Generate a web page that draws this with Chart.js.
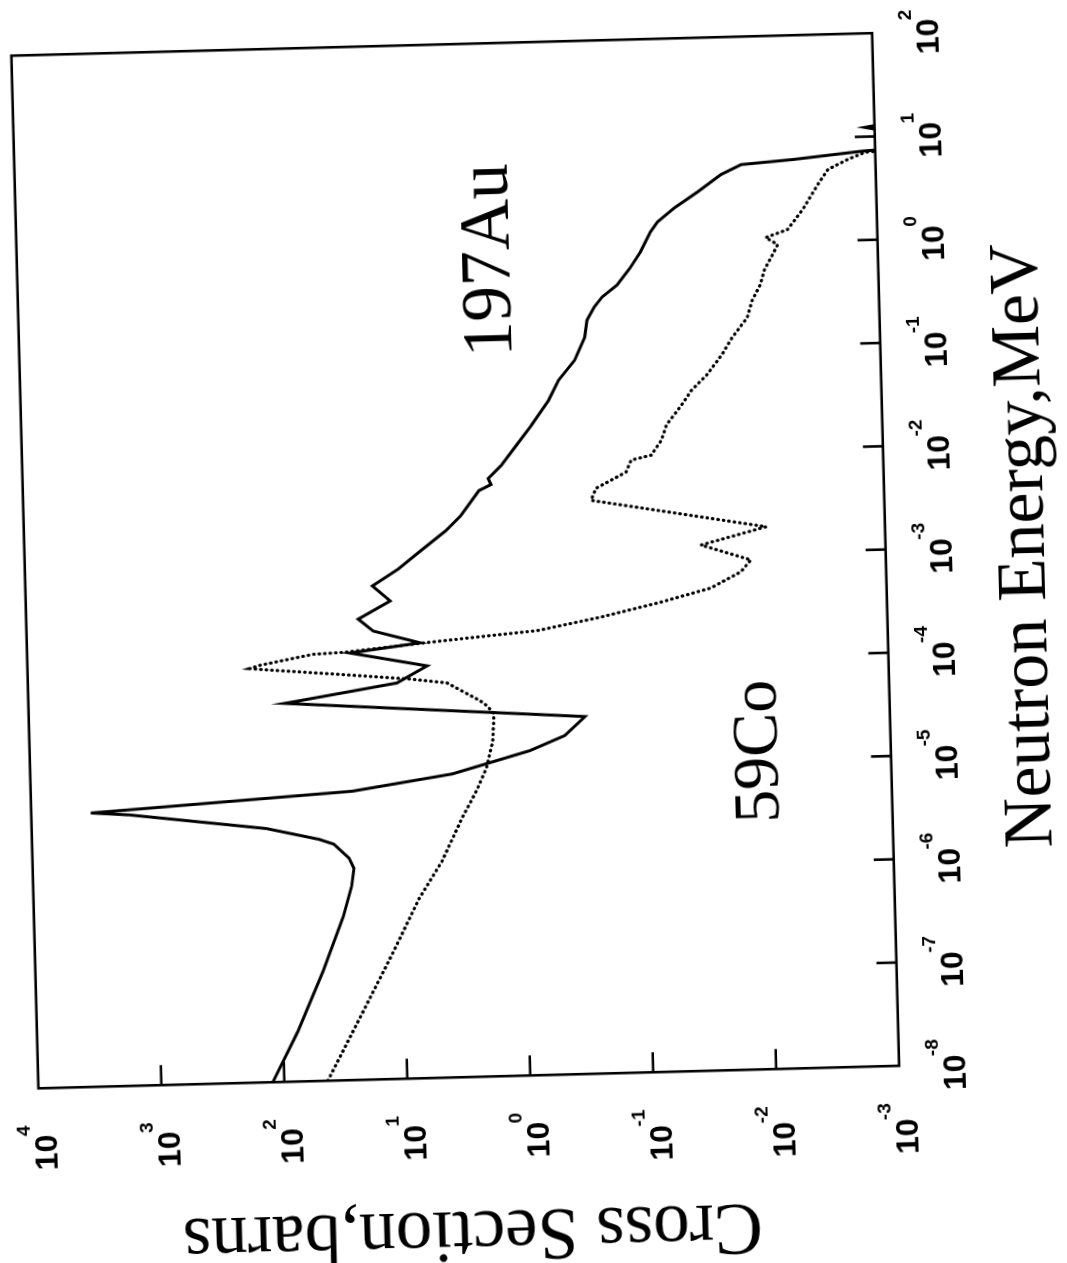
<!DOCTYPE html>
<html>
<head>
<meta charset="utf-8">
<title>Neutron capture cross sections</title>
<script src="https://cdn.jsdelivr.net/npm/chart.js@4.4.1/dist/chart.umd.min.js"></script>
<style>
  html, body { margin: 0; padding: 0; background: #fff; overflow: hidden; }
  body { width: 1067px; height: 1263px; position: relative; }
  /* the plot is laid out landscape and turned on its side, slightly skewed like the printed page */
  #plot {
    position: absolute; left: 0; top: 0;
    width: 1263px; height: 1067px;
    transform-origin: 0 0;
    transform: translate(455.25px, 560.75px) rotate(-91.5deg) translate(-702.25px, -455.25px);
  }
</style>
</head>
<body>
<canvas id="plot" width="1263" height="1067"></canvas>
<script>
// 197Au capture cross section: energy in MeV, sigma in barns
const auEnergy = [1e-8, 3.05e-8, 1.15e-7, 3.87e-7, 7.5e-7, 1.12e-6, 1.41e-6, 1.94e-6, 2.18e-6, 2.86e-6,
  4.2e-6, 4.48e-6, 4.7e-6, 6.25e-6, 8.67e-6, 1.39e-5, 1.91e-5, 2.88e-5, 4.6e-5, 4.79e-5,
  6.79e-5, 9.77e-5, 1.36e-4, 1.64e-4, 2.19e-4, 2.88e-4, 4.24e-4, 5.98e-4, 8.61e-4, 1.27e-3,
  1.96e-3, 2.72e-3, 4.71e-3, 5.35e-3, 6.12e-3, 8.13e-3, 0.0126, 0.0195, 0.0337, 0.0525,
  0.0813, 0.135, 0.197, 0.262, 0.327, 0.424, 0.615, 0.873, 1.36, 1.69,
  2.29, 3.23, 4.67, 5.77, 6.27, 7.24, 7.8, 10, 12.3, 14.5];
const auSigma = [124, 75.7, 45.8, 30.5, 25.8, 24.5, 26.7, 35.2, 46.4, 124,
  1607, 3280, 1604, 24.3, 3.70, 0.861, 0.443, 0.301, 82.6, 65.9,
  10.0, 5.64, 23.7, 6.36, 15.2, 20.0, 10.9, 15.1, 9.19, 6.03,
  3.73, 2.79, 1.96, 1.56, 1.64, 1.28, 0.955, 0.713, 0.511, 0.419,
  0.307, 0.251, 0.239, 0.208, 0.178, 0.134, 0.104, 0.0851, 0.0698, 0.0608,
  0.044, 0.0282, 0.0182, 0.0124, 0.00468, 0.0013, 0.0005, 0.0005, 0.0012, 0.0005];

// 59Co capture cross section
const coEnergy = [1e-8, 3.69e-8, 1.73e-7, 5.43e-7, 1.25e-6, 3.24e-6, 5.86e-6, 9.73e-6, 1.77e-5, 3.24e-5,
  3.88e-5, 4.36e-5, 6.61e-5, 7.36e-5, 8.55e-5, 9.95e-5, 1.02e-4, 1.09e-4, 1.35e-4, 1.39e-4,
  1.63e-4, 1.78e-4, 2.01e-4, 2.61e-4, 3.52e-4, 4.69e-4, 6.61e-4, 8.57e-4, 1.23e-3, 1.78e-3,
  3.55e-3, 4.63e-3, 6.52e-3, 8.49e-3, 9.39e-3, 0.013, 0.0182, 0.0282, 0.0392, 0.0542,
  0.0841, 0.122, 0.19, 0.282, 0.393, 0.547, 0.762, 0.95, 1.12, 1.32,
  2.05, 3.55, 4.93, 6.1, 7.06, 7.6];
const coSigma = [44.3, 24.4, 12.1, 7.38, 4.69, 3.15, 2.38, 1.95, 1.71, 1.65,
  1.88, 2.13, 3.93, 7.83, 30.6, 129, 156, 129, 47.5, 26.0,
  6.0, 2.48, 0.705, 0.215, 0.0692, 0.0269, 0.0152, 0.0125, 0.0316, 0.00925,
  0.242, 0.219, 0.124, 0.112, 0.0766, 0.063, 0.0568, 0.0424, 0.0348, 0.0261,
  0.0195, 0.016, 0.0119, 0.0107, 0.00916, 0.00842, 0.00718, 0.0065, 0.0081, 0.00536,
  0.00399, 0.00297, 0.00244, 0.00167, 0.00121, 0.0005];

// decade ticks on both axes
const energyTicks = [1e-8, 1e-7, 1e-6, 1e-5, 1e-4, 1e-3, 1e-2, 1e-1, 1e0, 1e1, 1e2];
const sigmaTicks = [1e-3, 1e-2, 1e-1, 1e0, 1e1, 1e2, 1e3, 1e4];

// curve names, placed at (energy, sigma)
const curveNames = ["197Au", "59Co"];
const nameEnergy = [0.79, 1.2e-5];
const nameSigma = [1.41, 0.0117];

const toPoints = (xs, ys) => xs.map((x, i) => ({ x: x, y: ys[i] }));

const baseFont = "bold 32px 'Liberation Sans', Arial, sans-serif";
const expFont = "bold 19px 'Liberation Sans', Arial, sans-serif";

function measurePower(ctx, value) {
    const exp = String(Math.round(Math.log10(value)));
    ctx.font = baseFont;
    const wb = ctx.measureText("10").width;
    ctx.font = expFont;
    const we = ctx.measureText(exp).width;
    return { exp: exp, wb: wb, w: wb + we - 1 };
}

// "10" followed by a raised exponent
function drawPower(ctx, lab, x0, baseline) {
    ctx.textAlign = "left";
    ctx.textBaseline = "alphabetic";
    ctx.font = baseFont;
    ctx.fillText("10", x0, baseline);
    ctx.font = expFont;
    ctx.fillText(lab.exp, x0 + lab.wb - 1, baseline - 27);
}

const framePlugin = {
    id: "frame",
    afterDatasetsDraw(chart) {
        const { ctx, chartArea: a } = chart;
        const xs = chart.scales.x, ys = chart.scales.y;
        ctx.save();
        ctx.strokeStyle = "#000";
        ctx.fillStyle = "#000";
        ctx.lineWidth = 2.6;
        ctx.lineCap = "butt";
        ctx.strokeRect(a.left, a.top, a.right - a.left, a.bottom - a.top);

        // inward tick marks
        ctx.beginPath();
        energyTicks.slice(1, -1).forEach(v => {
            const px = xs.getPixelForValue(v);
            ctx.moveTo(px, a.bottom);
            ctx.lineTo(px, a.bottom - 20);
        });
        sigmaTicks.slice(1, -1).forEach(v => {
            const py = ys.getPixelForValue(v);
            ctx.moveTo(a.left, py);
            ctx.lineTo(a.left + 20, py);
        });
        ctx.stroke();

        // tick labels
        energyTicks.forEach(v => {
            const lab = measurePower(ctx, v);
            const px = xs.getPixelForValue(v);
            drawPower(ctx, lab, px - lab.w / 2, a.bottom + 66);
        });
        sigmaTicks.forEach(v => {
            const lab = measurePower(ctx, v);
            const py = ys.getPixelForValue(v);
            drawPower(ctx, lab, a.left - 37 - lab.w, py + 17);
        });

        // curve names
        ctx.textAlign = "center";
        ctx.textBaseline = "middle";
        curveNames.forEach((name, i) => {
            ctx.font = (i === 0 ? 71 : 66) + "px 'Liberation Serif', 'Times New Roman', serif";
            ctx.fillText(name, xs.getPixelForValue(nameEnergy[i]), ys.getPixelForValue(nameSigma[i]));
        });
        ctx.restore();
    }
};

new Chart(document.getElementById("plot"), {
    type: "line",
    data: {
        datasets: [
            {
                label: "197Au",
                data: toPoints(auEnergy, auSigma),
                borderColor: "#000",
                borderWidth: 3,
                pointRadius: 0,
                tension: 0,
                borderJoinStyle: "miter",
                clip: 0
            },
            {
                label: "59Co",
                data: toPoints(coEnergy, coSigma),
                borderColor: "#000",
                borderWidth: 3.2,
                borderDash: [0.5, 5],
                borderCapStyle: "round",
                pointRadius: 0,
                tension: 0,
                clip: 0
            }
        ]
    },
    options: {
        responsive: false,
        animation: false,
        devicePixelRatio: 1,
        layout: { padding: { top: 24.75, right: 44.25, left: 0, bottom: 0 } },
        plugins: { legend: { display: false }, tooltip: { enabled: false } },
        scales: {
            x: {
                type: "logarithmic",
                min: 1e-8,
                max: 1e2,
                afterBuildTicks: s => { s.ticks = energyTicks.map(v => ({ value: v })); },
                afterFit: s => { s.height = 181.25; },
                ticks: { display: false },
                grid: { display: false },
                border: { display: false },
                title: {
                    display: true,
                    text: "Neutron Energy,MeV",
                    color: "#000",
                    font: { family: "'Liberation Serif', 'Times New Roman', serif", size: 70, lineHeight: 1 },
                    padding: { top: 0, bottom: 6 }
                }
            },
            y: {
                type: "logarithmic",
                min: 1e-3,
                max: 1e4,
                afterBuildTicks: s => { s.ticks = sigmaTicks.map(v => ({ value: v })); },
                afterFit: s => { s.width = 185.75; },
                ticks: { display: false },
                grid: { display: false },
                border: { display: false },
                title: {
                    display: true,
                    text: "Cross Section,barns",
                    color: "#000",
                    font: { family: "'Liberation Serif', 'Times New Roman', serif", size: 73, lineHeight: 0.8 },
                    padding: { top: 3, bottom: 0 }
                }
            }
        }
    },
    plugins: [framePlugin]
});
</script>
</body>
</html>
